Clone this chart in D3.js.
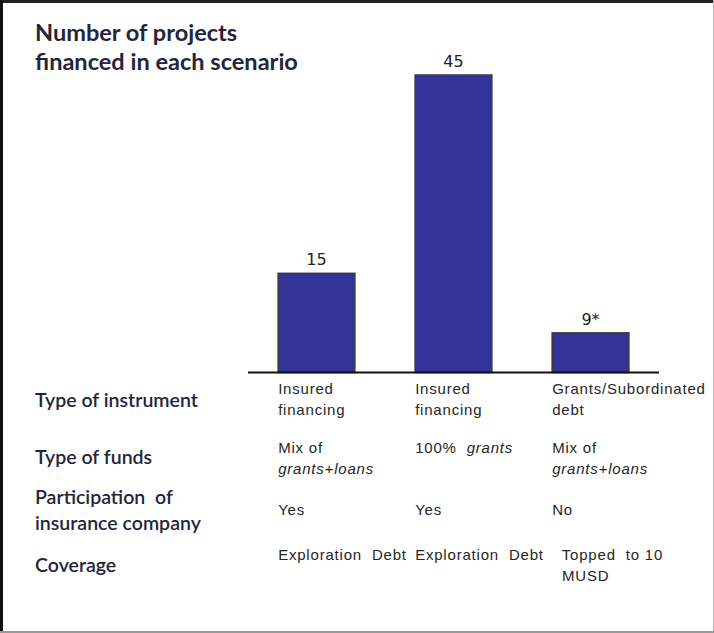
<!DOCTYPE html>
<html>
<head>
<meta charset="utf-8">
<script src="https://cdn.jsdelivr.net/npm/d3@7"></script>
<style>
  html, body { margin: 0; padding: 0; background: #fff; }
  svg { display: block; }
  .cell { white-space: pre; }
</style>
</head>
<body>
<div id="chart"></div>
<script>
// values
var scenarios = ["Scenario 1", "Scenario 2", "Scenario 3"];
var projectCounts = [15, 45, 6];          // bar heights as drawn
var countLabels = ["15", "45", "9*"];     // labels printed above the bars

var titleLines = ["Number of projects", "financed in each scenario"];

var rowLabels = [
  ["Type of instrument"],
  ["Type of funds"],
  ["Participation  of", "insurance company"],
  ["Coverage"]
];

// each cell: list of lines, each line a list of [text, italic]
var instrumentCells = [
  [[["Insured", 0]], [["financing", 0]]],
  [[["Insured", 0]], [["financing", 0]]],
  [[["Grants/Subordinated", 0]], [["debt", 0]]]
];
var fundsCells = [
  [[["Mix of", 0]], [["grants+loans", 1]]],
  [[["100%  ", 0], ["grants", 1]]],
  [[["Mix of", 0]], [["grants+loans", 1]]]
];
var insuranceCells = [
  [[["Yes", 0]]],
  [[["Yes", 0]]],
  [[["No", 0]]]
];
var coverageCells = [
  [[["Exploration  Debt", 0]]],
  [[["Exploration  Debt", 0]]],
  [[["  Topped  to 10", 0]], [["  MUSD", 0]]]
];
var tableRows = [instrumentCells, fundsCells, insuranceCells, coverageCells];

var width = 714, height = 633;

var svg = d3.select("#chart").append("svg")
    .attr("width", width)
    .attr("height", height);

// frame
svg.append("rect").attr("x", 0).attr("y", 0).attr("width", width).attr("height", height).attr("fill", "#fff");
svg.append("line").attr("x1", 0).attr("x2", width).attr("y1", 1.5).attr("y2", 1.5)
    .attr("stroke", "#222").attr("stroke-width", 3);
svg.append("line").attr("x1", 1.5).attr("x2", 1.5).attr("y1", 0).attr("y2", height)
    .attr("stroke", "#111").attr("stroke-width", 3);
svg.append("line").attr("x1", width - 0.5).attr("x2", width - 0.5).attr("y1", 0).attr("y2", height)
    .attr("stroke", "#bbb").attr("stroke-width", 1);
svg.append("line").attr("x1", 0).attr("x2", width).attr("y1", height - 1).attr("y2", height - 1)
    .attr("stroke", "#999").attr("stroke-width", 2);

// scales
var x = d3.scaleBand()
    .domain(scenarios)
    .range([248, 659])
    .paddingInner(0.44)
    .paddingOuter(0.22);

var y = d3.scaleLinear()
    .domain([0, 45])
    .range([372.5, 75]);

// bars
svg.selectAll(".bar")
    .data(projectCounts)
    .enter().append("rect")
    .attr("class", "bar")
    .attr("x", function(d, i) { return x(scenarios[i]); })
    .attr("y", function(d) { return y(d); })
    .attr("width", x.bandwidth())
    .attr("height", function(d) { return y(0) - y(d); })
    .attr("fill", "#333399")
    .attr("stroke", "#3a3a3a")
    .attr("stroke-width", 1.5);

// baseline
svg.append("line")
    .attr("x1", 248).attr("x2", 659)
    .attr("y1", y(0)).attr("y2", y(0))
    .attr("stroke", "#111").attr("stroke-width", 2);

// value labels
svg.selectAll(".count")
    .data(projectCounts)
    .enter().append("text")
    .attr("class", "count")
    .attr("x", function(d, i) { return x(scenarios[i]) + x.bandwidth() / 2; })
    .attr("y", function(d) { return y(d) - 8; })
    .attr("text-anchor", "middle")
    .attr("font-family", "DejaVu Sans, Verdana, sans-serif")
    .attr("font-size", 16)
    .attr("fill", "#222")
    .text(function(d, i) { return countLabels[i]; });

// title, sized so the long line spans the same width as the reference
var title = svg.append("g").attr("class", "title");
title.selectAll("text")
    .data(titleLines)
    .enter().append("text")
    .attr("x", 35)
    .attr("y", function(d, i) { return 41 + i * 29; })
    .attr("font-family", "Lato, 'Open Sans', sans-serif")
    .attr("font-weight", "bold")
    .attr("font-size", 20)
    .attr("fill", "#23263a")
    .text(function(d) { return d; });
var longLine = title.selectAll("text").nodes()[1];
var titleSize = 20 * 263 / longLine.getComputedTextLength();
title.selectAll("text").attr("font-size", titleSize);

// table rows
var rowTop = [383, 441, 497, 548];      // first text line baseline of each row
var rowLabelY = [407, 464, 504, 572];   // baseline of the row label
var lineGap = 21;

var labels = svg.append("g").attr("class", "row-labels");
rowLabels.forEach(function(lines, r) {
  lines.forEach(function(t, k) {
    labels.append("text")
      .attr("class", "cell")
      .attr("x", 35)
      .attr("y", rowLabelY[r] + k * 26)
      .attr("font-family", "Lato, 'Open Sans', sans-serif")
      .attr("font-weight", 600)
      .attr("font-size", 16)
      .attr("fill", "#23263a")
      .text(t);
  });
});
// fit the label font to the reference width of "insurance company"
var refLabel = labels.selectAll("text").nodes()[3];
var labelSize = 16 * 166 / refLabel.getComputedTextLength();
labels.selectAll("text").attr("font-size", labelSize);

var cellOffsets = [11, 12, 18, 12];
tableRows.forEach(function(cells, r) {
  cells.forEach(function(lines, c) {
    lines.forEach(function(segs, k) {
      var t = svg.append("text")
        .attr("class", "cell")
        .attr("x", x(scenarios[c]))
        .attr("y", rowTop[r] + cellOffsets[r] + k * lineGap)
        .attr("font-family", "'Liberation Sans', Arial, sans-serif")
        .attr("font-size", 15)
        .attr("letter-spacing", 0.8)
        .attr("fill", "#262626");
      segs.forEach(function(s) {
        t.append("tspan")
          .attr("font-style", s[1] ? "italic" : "normal")
          .text(s[0]);
      });
    });
  });
});
</script>
</body>
</html>
